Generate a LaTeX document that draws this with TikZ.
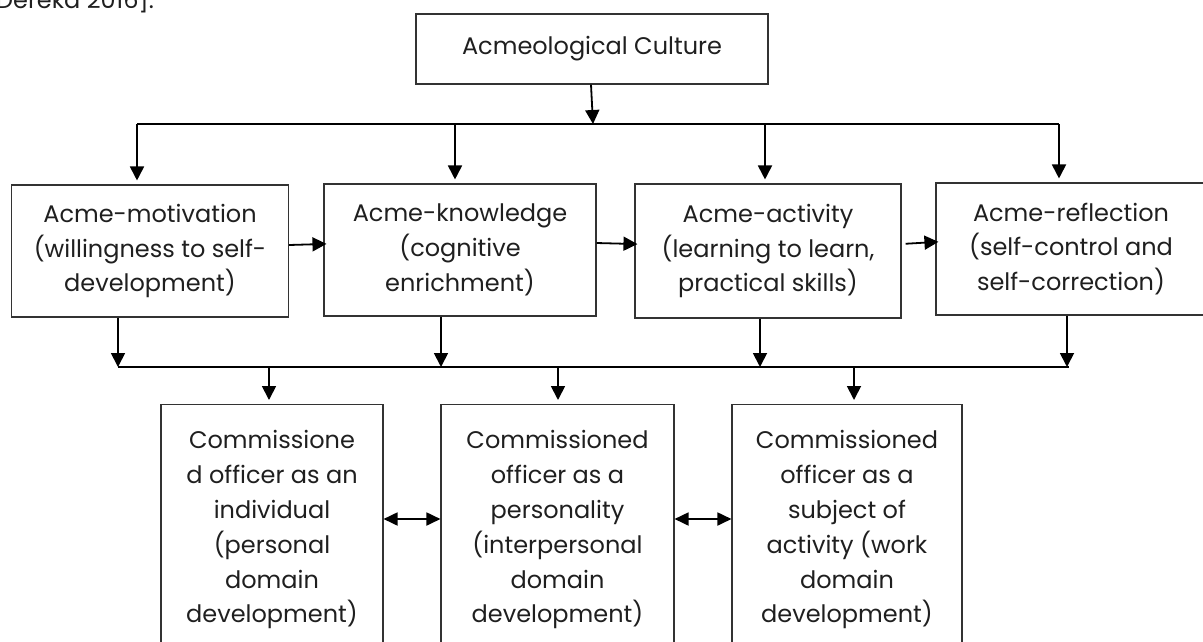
\documentclass[tikz,border=0pt]{standalone}
\usepackage{fontspec}
\setmainfont{Poppins}
\usetikzlibrary{arrows.meta}
\begin{document}
\begin{tikzpicture}[x=1pt,y=-1pt,
  every node/.style={font=\fontsize{24}{34.8}\selectfont, text=black!88},
  box/.style={draw=black!80, line width=1.1pt, align=center, inner sep=0pt},
  arr/.style={line width=1.8pt, -{Triangle[length=14pt,width=14pt]}},
  darr/.style={line width=1.8pt, {Triangle[length=14pt,width=13pt]}-{Triangle[length=14pt,width=13pt]}},
  bus/.style={line width=1.2pt}]
\useasboundingbox (0,0) rectangle (1203,641);
\clip (0,0) rectangle (1203,641);

\node[anchor=base west, inner sep=0pt] (cap) at (-4,8) {Dereka 2016].};

\node[box, minimum width=352pt, minimum height=70pt] (top) at (592,49) {Acmeological Culture};

\node[box, minimum width=277pt, minimum height=132pt] (b1) at (150,251) {Acme-motivation\\(willingness to self-\\development)};
\node[box, minimum width=272pt, minimum height=132pt] (b2) at (460,250) {Acme-knowledge\\(cognitive\\enrichment)};
\node[box, minimum width=266pt, minimum height=134pt] (b3) at (768,251) {Acme-activity\\(learning to learn,\\practical skills)};
\node[box, minimum width=270pt, minimum height=132pt] (b4) at (1071,249) {Acme-reflection\\(self-control and\\self-correction)};

\node[box, anchor=north, minimum width=222pt, inner ysep=26pt] (c1) at (272,404) {Commissione\\d officer as an\\individual\\(personal\\domain\\development)};
\node[box, anchor=north, minimum width=233pt, inner ysep=26pt] (c2) at (557.5,404) {Commissioned\\officer as a\\personality\\(interpersonal\\domain\\development)};
\node[box, anchor=north, minimum width=230pt, inner ysep=26pt] (c3) at (847,404) {Commissioned\\officer as a\\subject of\\activity (work\\domain\\development)};

% top bus
\coordinate (j0) at (593,124);
\coordinate (t1) at (137,124);
\coordinate (t2) at (455,124);
\coordinate (t3) at (765,124);
\coordinate (t4) at (1059,124);
\draw[arr] ([xshift=-1pt]top.south) -- (j0);
\draw[bus] (t1) -- (t4);
\foreach \t/\b in {t1/b1,t2/b2,t3/b3,t4/b4}
  \draw[arr, shorten >=4pt] (\t) -- (\t |- \b.north);

% horizontal arrows
\draw[arr, shorten >=-3pt] ([yshift=6pt]b1.east) -- ([yshift=6pt]b2.west);
\draw[arr, shorten >=-3pt] ([yshift=7pt]b2.east) -- ([yshift=7pt]b3.west);
\draw[arr, shorten <=4pt, shorten >=-3pt] ([yshift=7pt]b3.east) -- ([yshift=7pt]b4.west);

% bottom bus
\coordinate (d1) at (118,367);
\coordinate (d2) at (441,367);
\coordinate (d3) at (760,367);
\coordinate (d4) at (1067,367);
\foreach \d/\b in {d1/b1,d2/b2,d3/b3,d4/b4}
  \draw[arr] (\b.south -| \d) -- (\d);
\draw[bus] (d1) -- ([xshift=2pt]d4);

\coordinate (e1) at (269,367);
\coordinate (e2) at (558,367);
\coordinate (e3) at (854,367);
\foreach \e/\c in {e1/c1,e2/c2,e3/c3}
  \draw[arr, shorten >=4pt] (\e) -- (\e |- \c.north);

% double arrows
\coordinate (m) at (0,519);
\draw[darr] (c1.east |- m) -- (c2.west |- m);
\draw[darr] (c2.east |- m) -- (c3.west |- m);
\end{tikzpicture}
\end{document}
